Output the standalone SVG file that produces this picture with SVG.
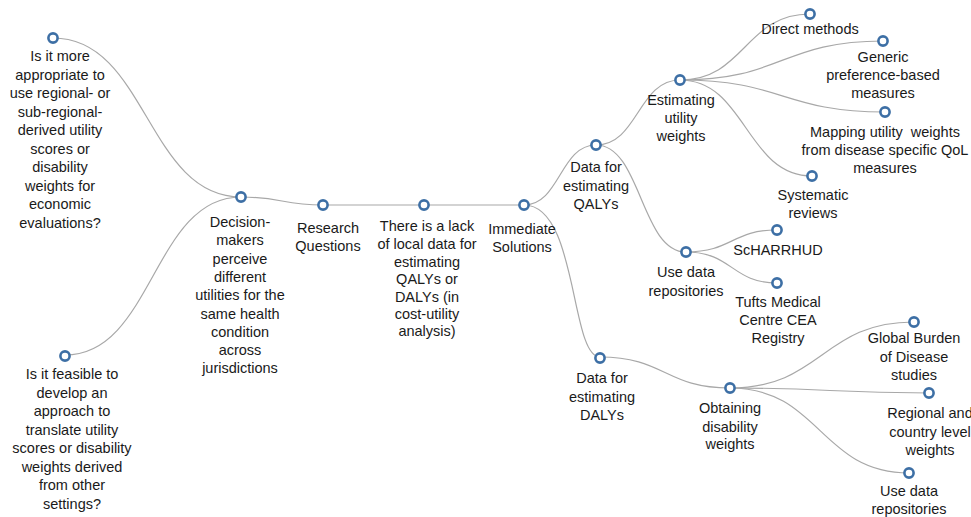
<svg xmlns="http://www.w3.org/2000/svg" width="971" height="517" viewBox="0 0 971 517">
<style>
.bg{fill:#ffffff}
.link{fill:none;stroke:#a8a8a8;stroke-width:1.2}
.node circle{fill:#ffffff;stroke:#3d6fa5;stroke-width:2.6}
.node text{font-family:"Liberation Sans",Arial,sans-serif;font-size:14.5px;fill:#1a1a1a;text-anchor:middle;white-space:pre}
</style>
<rect class="bg" width="971" height="517"/>
<g id="connectors">
<path class="link" d="M53,38 C147,38 147,197 241,197"/>
<path class="link" d="M65,355 C153,355 153,197 241,197"/>
<path class="link" d="M241,197 C282,197 282,205 323,205"/>
<path class="link" d="M323,205 L424,205"/>
<path class="link" d="M424,205 L524,205"/>
<path class="link" d="M524,205 C560,205 560,145 596,145"/>
<path class="link" d="M524,205 C578,205 570,357 600,357"/>
<path class="link" d="M596,145 C638,145 638,80 680,80"/>
<path class="link" d="M596,145 C641,145 641,252 686,252"/>
<path class="link" d="M680,80 C745,80 745,14 810,14"/>
<path class="link" d="M680,80 C782,80 782,41 883,41"/>
<path class="link" d="M680,80 C783,80 783,112 885,112"/>
<path class="link" d="M680,80 C746,80 746,176 812,176"/>
<path class="link" d="M686,252 C732,252 732,230 777,230"/>
<path class="link" d="M686,252 C732,252 732,283 777,283"/>
<path class="link" d="M600,357 C665,357 665,388 730,388"/>
<path class="link" d="M730,388 C822,388 822,322 914,322"/>
<path class="link" d="M730,388 C830,388 830,393 929,393"/>
<path class="link" d="M730,388 C820,388 820,473 909,473"/>
</g>
<g id="n-q1" class="node">
<circle cx="53" cy="38" r="4.6"/>
<text x="60" y="61">Is it more</text>
<text x="60" y="79.5">appropriate to</text>
<text x="60" y="98">use regional- or</text>
<text x="60" y="116.5">sub-regional-</text>
<text x="60" y="135">derived utility</text>
<text x="60" y="153.5">scores or</text>
<text x="60" y="172">disability</text>
<text x="60" y="190.5">weights for</text>
<text x="60" y="209">economic</text>
<text x="60" y="227.5">evaluations?</text>
</g>
<g id="n-q2" class="node">
<circle cx="65" cy="356" r="4.6"/>
<text x="72" y="379">Is it feasible to</text>
<text x="72" y="397.5">develop an</text>
<text x="72" y="416">approach to</text>
<text x="72" y="434.5">translate utility</text>
<text x="72" y="453">scores or disability</text>
<text x="72" y="471.5">weights derived</text>
<text x="72" y="490">from other</text>
<text x="72" y="508.5">settings?</text>
</g>
<g id="n-decision" class="node">
<circle cx="241" cy="197" r="4.6"/>
<text x="240" y="227">Decision-</text>
<text x="240" y="245.3">makers</text>
<text x="240" y="263.6">perceive</text>
<text x="240" y="281.9">different</text>
<text x="240" y="300.2">utilities for the</text>
<text x="240" y="318.5">same health</text>
<text x="240" y="336.8">condition</text>
<text x="240" y="355.1">across</text>
<text x="240" y="373.4">jurisdictions</text>
</g>
<g id="n-research" class="node">
<circle cx="323" cy="205" r="4.6"/>
<text x="328" y="233">Research</text>
<text x="328" y="251">Questions</text>
</g>
<g id="n-lack" class="node">
<circle cx="424" cy="205" r="4.6"/>
<text x="427" y="231">There is a lack</text>
<text x="427" y="249">of local data for</text>
<text x="427" y="266.5">estimating</text>
<text x="427" y="284">QALYs or</text>
<text x="427" y="301.5">DALYs (in</text>
<text x="427" y="319">cost-utility</text>
<text x="427" y="336">analysis)</text>
</g>
<g id="n-immediate" class="node">
<circle cx="524" cy="205" r="4.6"/>
<text x="522" y="234">Immediate</text>
<text x="522" y="252">Solutions</text>
</g>
<g id="n-qalys" class="node">
<circle cx="596" cy="145" r="4.6"/>
<text x="596" y="172">Data for</text>
<text x="596" y="190.5">estimating</text>
<text x="596" y="209">QALYs</text>
</g>
<g id="n-estutil" class="node">
<circle cx="680" cy="80" r="4.6"/>
<text x="681" y="105">Estimating</text>
<text x="681" y="123">utility</text>
<text x="681" y="141">weights</text>
</g>
<g id="n-direct" class="node">
<circle cx="810" cy="14" r="4.6"/>
<text x="810" y="34">Direct methods</text>
</g>
<g id="n-generic" class="node">
<circle cx="883" cy="41" r="4.6"/>
<text x="883" y="62">Generic</text>
<text x="883" y="80">preference-based</text>
<text x="883" y="98">measures</text>
</g>
<g id="n-mapping" class="node">
<circle cx="885" cy="112" r="4.6"/>
<text x="885" y="137">Mapping utility  weights</text>
<text x="885" y="155">from disease specific QoL</text>
<text x="885" y="173">measures</text>
</g>
<g id="n-systematic" class="node">
<circle cx="812" cy="176" r="4.6"/>
<text x="813" y="200">Systematic</text>
<text x="813" y="218">reviews</text>
</g>
<g id="n-usedata1" class="node">
<circle cx="686" cy="252" r="4.6"/>
<text x="686" y="277">Use data</text>
<text x="686" y="296">repositories</text>
</g>
<g id="n-scharrhud" class="node">
<circle cx="777" cy="230" r="4.6"/>
<text x="778" y="255">ScHARRHUD</text>
</g>
<g id="n-tufts" class="node">
<circle cx="777" cy="283" r="4.6"/>
<text x="778" y="307">Tufts Medical</text>
<text x="778" y="325">Centre CEA</text>
<text x="778" y="343">Registry</text>
</g>
<g id="n-dalys" class="node">
<circle cx="600" cy="358" r="4.6"/>
<text x="602" y="383">Data for</text>
<text x="602" y="402">estimating</text>
<text x="602" y="420">DALYs</text>
</g>
<g id="n-obtaining" class="node">
<circle cx="730" cy="388" r="4.6"/>
<text x="730" y="413">Obtaining</text>
<text x="730" y="432">disability</text>
<text x="730" y="449">weights</text>
</g>
<g id="n-gbd" class="node">
<circle cx="914" cy="322" r="4.6"/>
<text x="914" y="343">Global Burden</text>
<text x="914" y="362">of Disease</text>
<text x="914" y="380">studies</text>
</g>
<g id="n-regional" class="node">
<circle cx="929" cy="393" r="4.6"/>
<text x="930" y="418">Regional and</text>
<text x="930" y="437">country level</text>
<text x="930" y="455">weights</text>
</g>
<g id="n-usedata2" class="node">
<circle cx="909" cy="473" r="4.6"/>
<text x="909" y="496">Use data</text>
<text x="909" y="514">repositories</text>
</g>
</svg>
